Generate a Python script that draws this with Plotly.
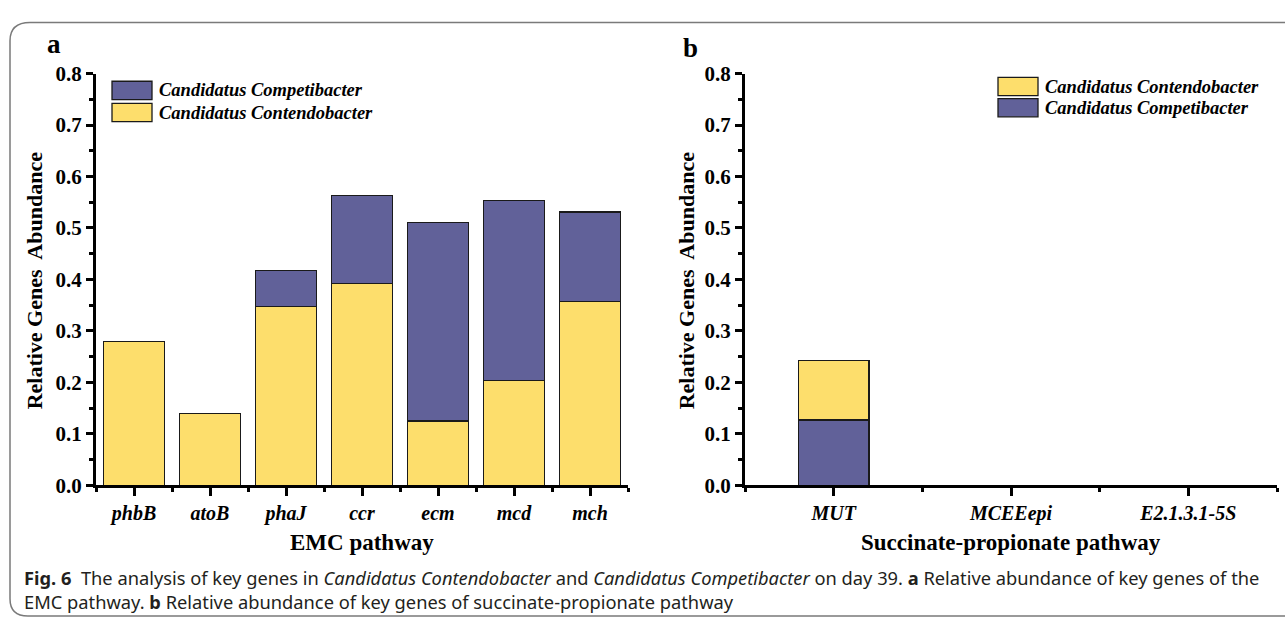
import plotly.graph_objects as go

# ---- data -------------------------------------------------------------
emc_genes = ["phbB", "atoB", "phaJ", "ccr", "ecm", "mcd", "mch"]
emc_contendobacter = [0.280, 0.140, 0.348, 0.392, 0.125, 0.203, 0.357]
emc_competibacter = [0.000, 0.000, 0.069, 0.171, 0.386, 0.351, 0.174]

sp_genes = ["MUT", "MCEEepi", "E2.1.3.1-5S"]
sp_competibacter = [0.127, 0.0, 0.0]
sp_contendobacter = [0.115, 0.0, 0.0]

y_ticks = [0.0, 0.1, 0.2, 0.3, 0.4, 0.5, 0.6, 0.7, 0.8]

name_compet = "Candidatus Competibacter"
name_conten = "Candidatus Contendobacter"

# ---- style ------------------------------------------------------------
W, H = 1285, 630
YELLOW = "#FDDE6C"
BLUE = "#616199"
SERIF = "Liberation Serif, Times New Roman, serif"
SANS = "Noto Sans, Open Sans, sans-serif"


def px(x):
    return x / W


def py(y):
    return 1 - y / H


def visible(values):
    # zero-height segments are left out so no outline is stroked for them
    return [v if v > 0 else None for v in values]


emc_x = list(range(len(emc_genes)))
sp_x = list(range(len(sp_genes)))

bar_line = dict(color="#1a1a1a", width=1.3)

fig = go.Figure()

# panel a: Contendobacter at the bottom, Competibacter stacked above
fig.add_trace(go.Bar(x=emc_x, y=visible(emc_contendobacter), name=name_conten, width=0.8,
                     marker=dict(color=YELLOW, line=bar_line),
                     xaxis="x", yaxis="y", showlegend=False))
fig.add_trace(go.Bar(x=emc_x, y=visible(emc_competibacter), name=name_compet, width=0.8,
                     marker=dict(color=BLUE, line=bar_line),
                     xaxis="x", yaxis="y", showlegend=False))

# panel b: Competibacter at the bottom, Contendobacter stacked above
fig.add_trace(go.Bar(x=sp_x, y=visible(sp_competibacter), name=name_compet, width=0.4,
                     marker=dict(color=BLUE, line=bar_line),
                     xaxis="x2", yaxis="y2", showlegend=False))
fig.add_trace(go.Bar(x=sp_x, y=visible(sp_contendobacter), name=name_conten, width=0.4,
                     marker=dict(color=YELLOW, line=bar_line),
                     xaxis="x2", yaxis="y2", showlegend=False))

tick_font = dict(family=SERIF, size=21, color="black", weight="bold")
xtick_font = dict(family=SERIF, size=20, color="black", weight="bold", style="italic")


def y_axis(anchor):
    return dict(
        anchor=anchor, domain=[py(492), py(64)], range=[0, 0.8],
        tickmode="array", tickvals=y_ticks, ticktext=[f"{v:.1f}" for v in y_ticks],
        ticks="outside", ticklen=7, tickwidth=2.5, tickcolor="black",
        minor=dict(tickmode="linear", tick0=0.05, dtick=0.1, ticks="outside",
                   ticklen=4, tickwidth=2.5, tickcolor="black"),
        showline=True, linewidth=3, linecolor="black",
        showgrid=False, zeroline=False, tickfont=tick_font, fixedrange=True,
    )


def x_axis(anchor, dom, n, labels):
    return dict(
        anchor=anchor, domain=dom, range=[-0.5, n - 0.5],
        tickmode="array", tickvals=list(range(n)), ticktext=labels,
        ticks="outside", ticklen=8, tickwidth=2.5, tickcolor="black",
        minor=dict(tickmode="linear", tick0=0.5, dtick=1, ticks="outside",
                   ticklen=4, tickwidth=2.5, tickcolor="black"),
        showline=True, linewidth=3, linecolor="black",
        showgrid=False, zeroline=False, tickfont=xtick_font, fixedrange=True,
    )


fig.update_layout(
    width=W, height=H, autosize=False,
    margin=dict(l=0, r=0, t=0, b=0),
    paper_bgcolor="white", plot_bgcolor="white",
    barmode="stack", bargap=0.2,
    xaxis=x_axis("y", [px(96), px(628)], len(emc_genes), emc_genes),
    yaxis=y_axis("x"),
    xaxis2=x_axis("y2", [px(745), px(1277)], len(sp_genes), sp_genes),
    yaxis2=y_axis("x2"),
)

shapes = []
annotations = []

# outer rounded frame
frame = (f"M {px(1300)},{py(628)} L {px(28)},{py(628)} "
         f"Q {px(10)},{py(628)} {px(10)},{py(610)} "
         f"L {px(10)},{py(30)} Q {px(10)},{py(11)} {px(30)},{py(11)} "
         f"L {px(1300)},{py(11)}")
shapes.append(dict(type="path", xref="paper", yref="paper", path=frame,
                   line=dict(color="#7a7a7a", width=1.5)))


def legend_entry(x, y, color, label):
    shapes.append(dict(type="rect", xref="paper", yref="paper",
                       x0=px(x), x1=px(x + 40), y0=py(y + 19), y1=py(y),
                       fillcolor=color, line=dict(color="#1a1a1a", width=1.3)))
    annotations.append(dict(xref="paper", yref="paper", x=px(x + 45), y=py(y + 9.5),
                            xanchor="left", yanchor="middle", showarrow=False,
                            text=f"<b><i>{label}</i></b>",
                            font=dict(family=SERIF, size=18.5, color="black")))


legend_entry(112, 72, BLUE, name_compet)
legend_entry(112, 95, YELLOW, name_conten)
legend_entry(998, 68, YELLOW, name_conten)
legend_entry(998, 90, BLUE, name_compet)


def text(x, y, s, size, family=SERIF, angle=0, anchor="center", color="black", align="center"):
    annotations.append(dict(xref="paper", yref="paper", x=px(x), y=py(y),
                            xanchor=anchor, yanchor="middle", showarrow=False,
                            text=s, textangle=angle, align=align,
                            font=dict(family=family, size=size, color=color)))


# panel letters
text(54, 33, "<b>a</b>", 27)
text(690, 37, "<b>b</b>", 27)

# axis titles
text(34, 279, "<b>Relative Genes&nbsp; Abundance</b>", 22, angle=-90)
text(686, 279, "<b>Relative Genes&nbsp; Abundance</b>", 22, angle=-90)
text(362, 551, "<b>EMC pathway</b>", 23)
text(1011, 551, "<b>Succinate-propionate pathway</b>", 23)

# caption (two lines in one block)
caption = ("<b>Fig. 6</b>&nbsp; The analysis of key genes in <i>Candidatus Contendobacter</i> and "
           "<i>Candidatus Competibacter</i> on day 39. <b>a</b> Relative abundance of key genes of the"
           "<br>EMC pathway. <b>b</b> Relative abundance of key genes of succinate-propionate pathway")
text(22, 600, caption, 18.3, family=SANS, anchor="left", color="#231F20", align="left")

fig.update_layout(shapes=shapes, annotations=annotations)

fig.write_html("out.html")
